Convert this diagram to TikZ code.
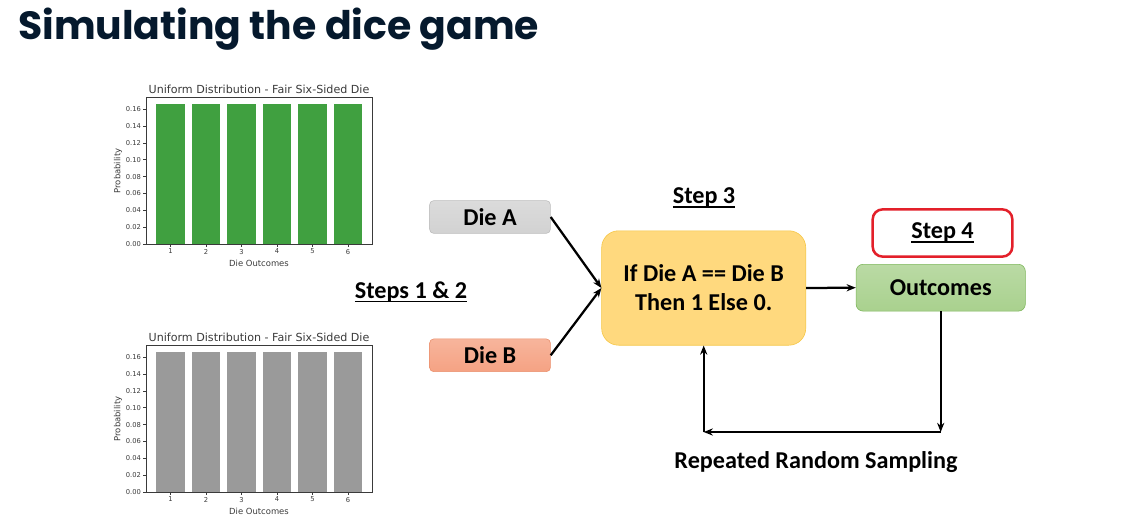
\documentclass[tikz,border=0pt]{standalone}
\usepackage{fontspec}
\setmainfont{Carlito}
\newfontfamily\plotfont{DejaVu Sans}
\newfontfamily\headfont{Poppins}
\usepackage{xcolor}
\usetikzlibrary{arrows.meta,positioning}
\definecolor{headnavy}{HTML}{05192D}
\definecolor{barGreen}{HTML}{40A040}
\definecolor{barGray}{HTML}{9A9A9A}
\definecolor{plotink}{HTML}{3A3A3A}
\definecolor{dieAfill}{HTML}{D2D2D2}
\definecolor{dieAline}{HTML}{BDBDBD}
\definecolor{dieBfill}{HTML}{F5A283}
\definecolor{dieBline}{HTML}{EA8E6B}
\definecolor{rulefill}{HTML}{FFD97E}
\definecolor{ruleline}{HTML}{F5C542}
\definecolor{outfill}{HTML}{A9D18E}
\definecolor{outline}{HTML}{7DB65A}
\definecolor{stepred}{HTML}{E3202A}
\newcommand\stepul[1]{\setbox0=\hbox{#1}\leavevmode\rlap{\rule[-2.8pt]{\wd0}{1.1pt}}\box0}
\tikzset{
  flowarr/.style  = {-{Stealth[length=2.3mm,width=1.8mm]},line width=1.6pt},
  boxtext/.style  = {font=\bfseries\fontsize{17.2}{20.5}\selectfont, align=center},
  diebox/.style   = {boxtext, rounded corners=3pt, minimum width=30.2mm, minimum height=8.2mm, inner sep=0pt},
  axisbox/.style  = {plotink, line width=0.5pt},
  plotlabel/.style= {font=\plotfont\fontsize{4.8}{5.5}\selectfont, text=plotink, inner sep=1.2pt},
  axislabel/.style= {plotlabel, font=\plotfont\fontsize{6}{7}\selectfont}
}

\begin{document}
\begin{tikzpicture}[x=0.025cm,y=-0.025cm]
  \useasboundingbox (0,0) rectangle (1122,519);
  \node[anchor=base west, inner sep=0pt, text=headnavy,
        font=\headfont\bfseries\fontsize{28}{32}\selectfont] (title) at (18,40) {Simulating the dice game};

  % two identical bar charts, the second one shifted down
  \foreach \oy/\barcol in {0/barGreen,248/barGray} {
    \begin{scope}[shift={(0,\oy)}]
      \foreach \i in {1,...,6} {
        \fill[\barcol] ({135+35.5*\i-14.2},103.7) rectangle ({135+35.5*\i+14.2},244);
        \draw[axisbox] ({135+35.5*\i},244) -- ++(0,3) node[below, plotlabel] (xt\i) {\i};
      }
      \foreach \v/\t in {0/0.00,1/0.02,2/0.04,3/0.06,4/0.08,5/0.10,6/0.12,7/0.14,8/0.16}
        \draw[axisbox] (146,{244-16.84*\v}) -- ++(-3,0) node[left, plotlabel] (yt\v) {\t};
      \draw[axisbox] (146,97.7) rectangle (372.5,244);
      \node[plotlabel, font=\plotfont\fontsize{7.9}{9}\selectfont] (ctitle) at (259,89) {Uniform Distribution - Fair Six-Sided Die};
      \node[axislabel, rotate=90] (ylab) at (118,171) {Probability};
      \node[axislabel] (xlab) at (259,263) {Die Outcomes};
    \end{scope}
  }

  \node[diebox, draw=dieAline, top color=dieAfill!80!white, bottom color=dieAfill] (dieA) at (490,217) {Die A};
  \node[diebox, draw=dieBline, top color=dieBfill!80!white, bottom color=dieBfill] (dieB) at (490,355.3) {Die B};
  \node[boxtext] (steps12) at (411,292) {\stepul{Steps 1 \& 2}};

  \node[boxtext, draw=ruleline, fill=rulefill, rounded corners=12pt, minimum width=51mm, minimum height=28.6mm,
        inner sep=0pt] (rule) at (703.7,288) {If Die A == Die B\\Then 1 Else 0.};
  \node[boxtext] (step3) at (704,198) {\stepul{Step 3}};

  \node[boxtext, draw=outline, top color=outfill!80!white, bottom color=outfill, rounded corners=5pt,
        minimum width=42.3mm, minimum height=11.7mm, inner sep=0pt] (outcomes) at (940.7,287.7) {Outcomes};
  \node[boxtext, draw=stepred, line width=1.8pt, fill=white, rounded corners=7pt,
        minimum width=34.9mm, minimum height=11.8mm, inner sep=0pt] (step4) at (942.5,233) {\stepul{Step 4}};

  \draw[flowarr] (dieA.east) -- (rule.west);
  \draw[flowarr] (dieB.east) -- (rule.west);
  \draw[flowarr] (rule.east) -- (outcomes.west);

  \coordinate (loopR) at (outcomes.south |- 0,432);
  \coordinate (loopL) at (rule.south |- loopR);
  \draw[flowarr] (outcomes.south) -- (loopR);
  \draw[flowarr] (loopR) -- (loopL);
  \draw[flowarr] (loopL) -- (rule.south);
  \node[boxtext] (resample) at (816,462) {Repeated Random Sampling};
\end{tikzpicture}
\end{document}
